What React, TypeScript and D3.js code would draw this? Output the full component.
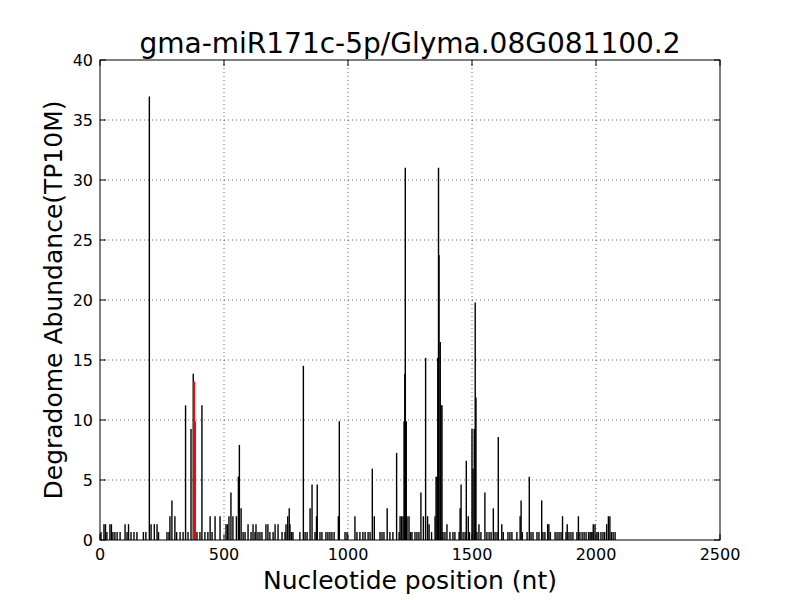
import React from "react";
import * as d3 from "d3";

// Cleavage positions (nt) and degradome abundance (TP10M)
const positions: number[] = [
  4, 16, 22, 28, 40, 46, 52, 60, 69, 81, 101, 109, 115, 125, 137, 149, 175, 185, 199, 206, 219, 230, 236,
  270, 278, 282, 290, 302, 309, 323, 335, 345, 355, 367, 376, 383, 391, 403, 411, 423, 435, 444, 452, 464,
  484, 508, 514, 520, 528, 536, 550, 558, 562, 569, 577, 585, 597,
  609, 617, 625, 629, 637, 645, 653, 669, 677, 685, 698, 706, 718, 734, 746, 750, 757, 763, 766, 772, 778,
  806, 820, 827, 835, 847, 855, 867, 873, 876, 887, 895, 911, 919, 927, 935, 944, 961, 965, 988, 996,
  1028, 1036, 1048, 1060, 1069, 1081, 1089, 1098, 1106, 1129, 1137, 1145, 1158, 1169, 1181, 1196, 1206,
  1210, 1216, 1222, 1226, 1229, 1231, 1235,
  1238, 1246, 1252, 1258, 1270, 1278, 1286, 1294, 1304, 1313, 1321, 1327, 1337, 1351, 1355, 1359, 1362,
  1365, 1367, 1372, 1375, 1379, 1383, 1391, 1399, 1411, 1423, 1431, 1448, 1452, 1456, 1464, 1472, 1477,
  1485, 1490, 1500, 1504, 1509, 1513, 1516, 1520, 1528, 1536, 1552, 1560, 1569, 1577, 1586, 1593, 1601,
  1606, 1620, 1626, 1645, 1653, 1661, 1681, 1694, 1698, 1703, 1722, 1731, 1738, 1746, 1762, 1770, 1781,
  1786, 1794, 1805, 1810, 1816, 1835, 1843, 1851, 1859, 1865,
  1879, 1884, 1891, 1899, 1907, 1923, 1929, 1935, 1944, 1952, 1960, 1970, 1976, 1980, 1984, 1989, 1996,
  2004, 2010, 2020, 2028, 2035, 2043, 2050, 2056, 2062, 2069, 2077,
];
const abundances: number[] = [
  0.66, 1.32, 1.32, 0.66, 1.32, 1.32, 0.66, 0.66, 0.66, 0.66, 1.32, 0.66, 1.32, 0.66, 0.66, 0.66, 0.66, 0.66, 36.96, 1.32, 1.32, 1.32, 0.66,
  0.66, 0.66, 1.98, 3.3, 1.98, 0.66, 0.66, 0.66, 11.22, 0.66, 9.24, 13.86, 9.9, 0.66, 0.66, 11.22, 0.66, 0.66, 1.98, 0.66, 1.98,
  1.98, 1.32, 1.32, 1.98, 3.96, 1.98, 1.98, 5.28, 7.92, 2.64, 0.66, 0.66, 1.32,
  0.66, 1.32, 0.66, 1.32, 0.66, 0.66, 0.66, 1.32, 1.32, 0.66, 0.66, 1.32, 1.32, 0.66, 0.66, 1.32, 1.98, 2.64, 1.32, 0.66, 0.66,
  0.66, 14.52, 0.66, 0.66, 2.64, 4.62, 0.66, 1.98, 4.62, 0.66, 0.66, 0.66, 0.66, 0.66, 0.66, 0.66, 1.98, 9.9, 0.66, 0.66,
  1.98, 0.66, 0.66, 0.66, 0.66, 0.66, 0.66, 5.94, 1.98, 0.66, 0.66, 0.66, 2.64, 0.66, 0.66, 7.26, 0.66,
  1.98, 1.98, 1.98, 9.9, 13.86, 31.02, 9.9,
  1.98, 1.98, 0.66, 0.66, 0.66, 0.66, 0.66, 3.96, 1.98, 15.18, 1.98, 1.32, 0.66, 1.98, 5.28, 5.28, 15.18,
  31.02, 23.76, 16.5, 11.22, 11.22, 0.66, 0.66, 1.32, 0.66, 0.66, 0.66, 0.66, 2.64, 4.62, 0.66, 0.66, 6.6,
  1.98, 0.66, 9.24, 5.94, 9.24, 19.8, 11.88, 0.66, 1.32, 0.66, 3.96, 0.66, 0.66, 0.66, 2.64, 0.66, 0.66,
  8.58, 1.32, 0.66, 0.66, 0.66, 0.66, 0.66, 1.98, 3.3, 0.66, 0.66, 5.28, 0.66, 0.66, 0.66, 0.66, 3.3,
  0.66, 0.66, 1.32, 1.32, 0.66, 0.66, 0.66, 0.66, 0.66, 1.98,
  0.66, 1.32, 0.66, 0.66, 0.66, 0.66, 1.98, 0.66, 0.66, 0.66, 0.66, 0.66, 0.66, 0.66, 0.66, 1.32, 1.32,
  0.66, 0.66, 0.66, 0.66, 0.66, 1.32, 1.98, 1.98, 0.66, 0.66, 0.66,
];
const targetPositions: number[] = [379];
const targetAbundances: number[] = [13.2];

const xTicks: number[] = [0, 500, 1000, 1500, 2000, 2500];
const yTicks: number[] = [0, 5, 10, 15, 20, 25, 30, 35, 40];

const title = "gma-miR171c-5p/Glyma.08G081100.2";
const xLabel = "Nucleotide position (nt)";
const yLabel = "Degradome Abundance(TP10M)";

export default function App() {
  const W = 800, H = 600;
  const m = { left: 100, right: 720, top: 60, bottom: 540 };
  const x = d3.scaleLinear().domain([0, 2500]).range([m.left, m.right]);
  const y = d3.scaleLinear().domain([0, 40]).range([m.bottom, m.top]);
  const font = "'DejaVu Sans', sans-serif";
  const tickLen = 6;

  return (
    <svg width={W} height={H} style={{ position: "absolute", left: 0, top: 0, background: "#fff" }} fontFamily={font}>
      <rect x={0} y={0} width={W} height={H} fill="#fff" />
      {/* grid */}
      {xTicks.slice(1, -1).map((t) => (
        <line key={"gx" + t} x1={x(t)} x2={x(t)} y1={m.top} y2={m.bottom} stroke="#000" strokeWidth={0.6} strokeDasharray="1,3" />
      ))}
      {yTicks.slice(1, -1).map((t) => (
        <line key={"gy" + t} x1={m.left} x2={m.right} y1={y(t)} y2={y(t)} stroke="#000" strokeWidth={0.6} strokeDasharray="1,3" />
      ))}
      {/* bars */}
      {positions.map((p, i) => (
        <line key={"b" + i} x1={x(p)} x2={x(p)} y1={y(0)} y2={y(abundances[i])} stroke="#000" strokeWidth={1.4} />
      ))}
      {targetPositions.map((p, i) => (
        <line key={"r" + i} x1={x(p)} x2={x(p)} y1={y(0)} y2={y(targetAbundances[i])} stroke="#ff0000" strokeWidth={2} />
      ))}
      {/* frame */}
      <rect x={m.left} y={m.top} width={m.right - m.left} height={m.bottom - m.top} fill="none" stroke="#000" strokeWidth={1} />
      {/* ticks */}
      {xTicks.map((t) => (
        <g key={"xt" + t}>
          <line x1={x(t)} x2={x(t)} y1={m.bottom} y2={m.bottom - tickLen} stroke="#000" />
          <line x1={x(t)} x2={x(t)} y1={m.top} y2={m.top + tickLen} stroke="#000" />
          <text x={x(t)} y={m.bottom + 20} textAnchor="middle" fontSize={16}>{t}</text>
        </g>
      ))}
      {yTicks.map((t) => (
        <g key={"yt" + t}>
          <line x1={m.left} x2={m.left + tickLen} y1={y(t)} y2={y(t)} stroke="#000" />
          <line x1={m.right} x2={m.right - tickLen} y1={y(t)} y2={y(t)} stroke="#000" />
          <text x={m.left - 7} y={y(t) + 5.5} textAnchor="end" fontSize={16}>{t}</text>
        </g>
      ))}
      <text x={(m.left + m.right) / 2} y={53} textAnchor="middle" fontSize={28}>{title}</text>
      <text x={(m.left + m.right) / 2} y={589} textAnchor="middle" fontSize={25}>{xLabel}</text>
      <text transform={`translate(62,${(m.top + m.bottom) / 2}) rotate(-90)`} textAnchor="middle" fontSize={25}>{yLabel}</text>
    </svg>
  );
}
